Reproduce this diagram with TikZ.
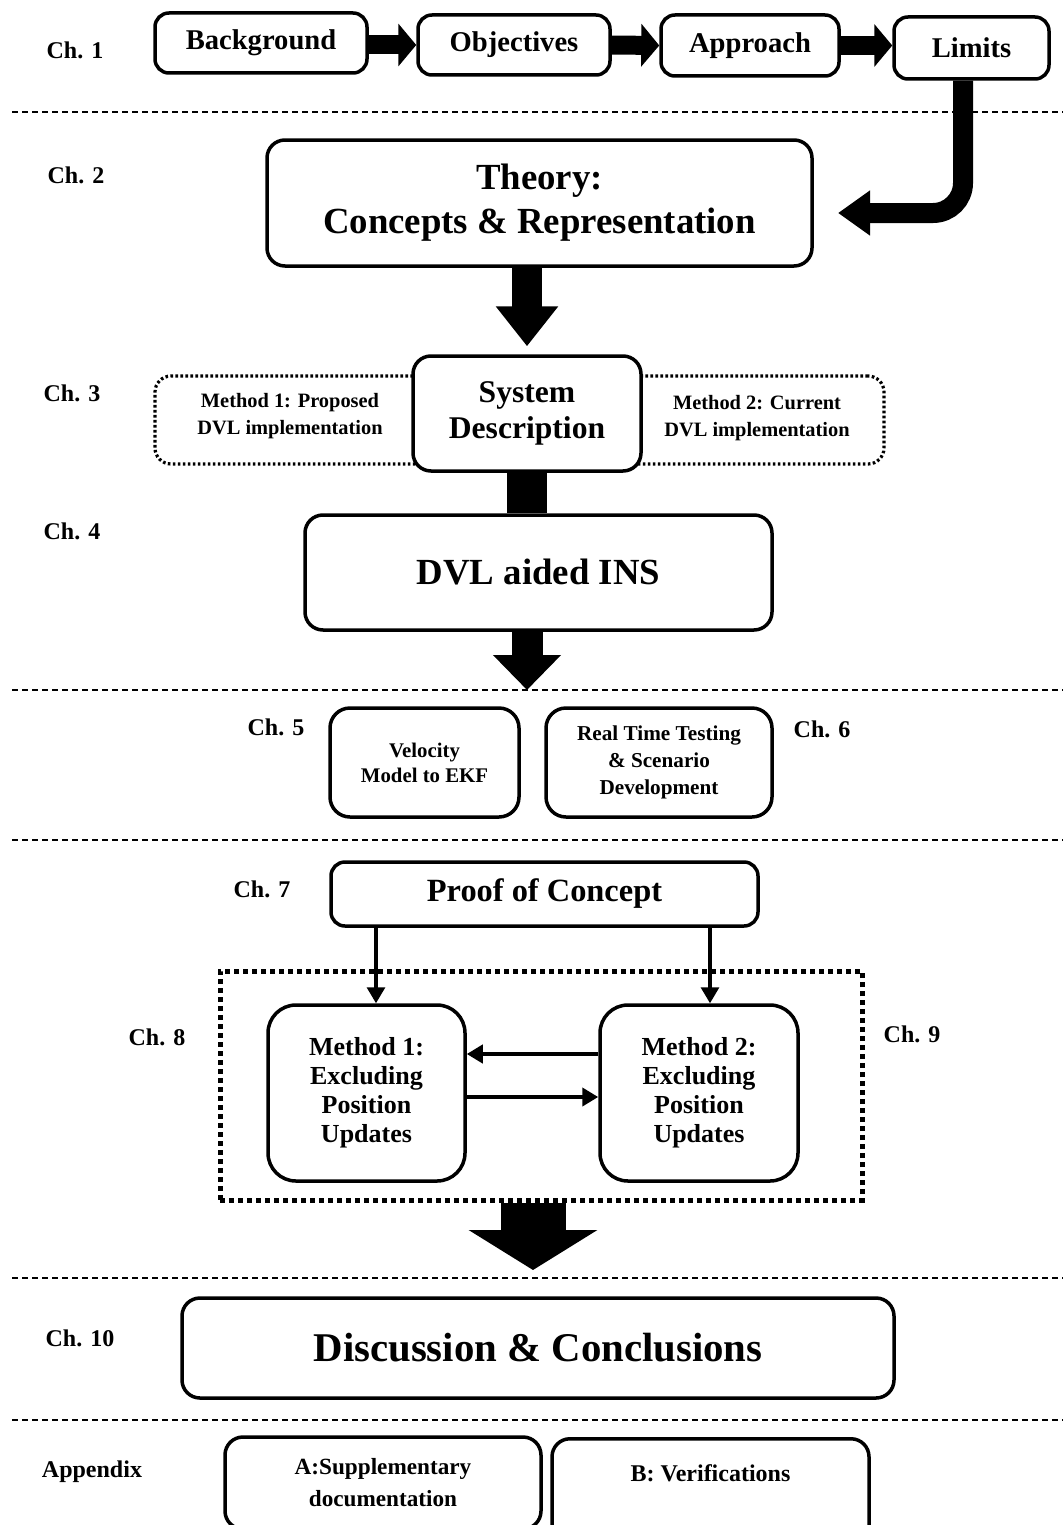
\documentclass[tikz,border=0pt]{standalone}
\usepackage{fontspec}
\setmainfont{Liberation Serif}
\usetikzlibrary{arrows.meta,calc}
\newcommand\myfs[2]{\fontsize{#1pt}{#2pt}\selectfont\bfseries}
\tikzset{
  box/.style={draw, line width=1.75pt, rounded corners=7pt, fill=white, align=center, inner sep=0pt},
  chlab/.style={font=\myfs{12}{14}, inner sep=0pt},
  sepline/.style={line width=0.6pt, dash pattern=on 3pt off 2pt},
  fatarrow/.style={line width=9.5pt, -{Triangle[width=21pt,length=9pt]}},
  thinarrow/.style={line width=1.6pt, -{Triangle[width=9pt,length=8pt]}},
  dotbox/.style={draw, line width=1.6pt, dash pattern=on 1.3pt off 1.2pt, rounded corners=8pt},
  sqdotbox/.style={draw, line width=2.5pt, dash pattern=on 2.5pt off 2pt},
}
\begin{document}
\begin{tikzpicture}[x=0.5pt,y=-0.5pt]
\clip (0,0) rectangle (1063,1525);
\fill[white] (0,0) rectangle (1063,1525);

% separators
\foreach \yy in {112,690,840,1278,1420} \draw[sepline] (12,\yy) -- (1063,\yy);

% chapter labels
\node[chlab] (c1) at (75,50) {Ch. 1};
\node[chlab] (c2) at (76,175) {Ch. 2};
\node[chlab] (c3) at (72,393) {Ch. 3};
\node[chlab] (c4) at (72,531) {Ch. 4};
\node[chlab] (c5) at (276,727) {Ch. 5};
\node[chlab] (c6) at (822,729) {Ch. 6};
\node[chlab] (c7) at (262,889) {Ch. 7};
\node[chlab] (c8) at (157,1037) {Ch. 8};
\node[chlab] (c9) at (912,1034) {Ch. 9};
\node[chlab] (c10) at (80,1338) {Ch. 10};
\node[chlab] (capp) at (92,1472) {Appendix};

% Ch 1
\node[box, minimum width=106pt, minimum height=30pt, font=\myfs{14.3}{16}] (bg) at (261,43) {Background};
\node[box, minimum width=96pt, minimum height=30pt, font=\myfs{14.3}{16}] (obj) at (514,45) {Objectives};
\node[box, minimum width=89pt, minimum height=30.5pt, font=\myfs{14.3}{16}] (app) at (750,45.5) {Approach};
\node[box, minimum width=77.5pt, minimum height=31pt, font=\myfs{14.3}{16}] (lim) at (971.5,48) {Limits};
\draw[fatarrow] (bg.east |- obj.west) -- (obj.west);
\draw[fatarrow] (obj.east) -- (app.west);
\draw[fatarrow] (app.east) -- (lim.west |- app.east);

% Ch 2
\node[box, minimum width=272.5pt, minimum height=63pt, rounded corners=9pt, font=\myfs{18.4}{22}] (th) at (539.5,203) {Theory:\\Concepts \& Representation};
\coordinate (ltip) at (838,213);
\draw[line width=10pt, rounded corners=15pt, -{Triangle[width=21.5pt,length=16pt]}] ([xshift=-4.25pt]lim.south) |- (ltip);

% Ch 3
\node[dotbox, minimum width=364.5pt, minimum height=44pt] (dots) at (519.5,420) {};
\node[font=\myfs{10.2}{13.5}, align=center, inner sep=0pt] (m1t) at (290,416) {Method 1: Proposed\\DVL implementation};
\node[font=\myfs{10.2}{13.5}, align=center, inner sep=0pt] (m2t) at (757,418) {Method 2: Current\\DVL implementation};
\node[box, minimum width=114pt, minimum height=57.5pt, rounded corners=9pt, font=\myfs{15.8}{18}] (sys) at (527,413.5) {System\\Description};
\draw[line width=15pt, shorten >=4pt, -{Triangle[width=30pt,length=20pt]}] (sys.north |- th.south) -- (sys.north);

% Ch 4
\node[box, minimum width=233.5pt, minimum height=57.5pt, rounded corners=9pt, font=\myfs{18.4}{22}] (dvl) at (538.5,572.5) {DVL aided INS};
\draw[line width=20pt] (sys.south) -- (dvl.north -| sys.south);
\coordinate (dvlend) at (527,690);
\draw[line width=15.5pt, -{Triangle[width=33pt,length=17.5pt]}] (dvl.south -| dvlend) -- (dvlend);

% Ch 5 / 6
\node[box, minimum width=94.5pt, minimum height=54.5pt, rounded corners=10pt, font=\myfs{10.4}{12.5}] (vel) at (424.5,762.5) {Velocity\\Model to EKF};
\node[box, minimum width=113pt, minimum height=54.5pt, rounded corners=10pt, font=\myfs{10.6}{13.5}] (rt) at (659,762.5) {Real Time Testing\\\& Scenario\\Development};

% Ch 7
\node[box, minimum width=213.5pt, minimum height=32pt, font=\myfs{16.2}{18}] (poc) at (544.5,894) {Proof of Concept};

% Ch 8 / 9
\node[sqdotbox, minimum width=321pt, minimum height=114.5pt] (grp) at (541,1085.5) {};
\node[box, minimum width=98.5pt, minimum height=88pt, rounded corners=14pt, font=\myfs{13}{14.5}] (me1) at (366.5,1093) {Method 1:\\Excluding\\Position\\Updates};
\node[box, minimum width=99pt, minimum height=88pt, rounded corners=14pt, font=\myfs{13}{14.5}] (me2) at (699,1093) {Method 2:\\Excluding\\Position\\Updates};
\draw[thinarrow] ([xshift=4.75pt]me1.north |- poc.south) -- ([xshift=4.75pt]me1.north);
\draw[thinarrow] ([xshift=5.5pt]me2.north |- poc.south) -- ([xshift=5.5pt]me2.north);
\draw[thinarrow, line width=2pt] ($(me2.west)+(0,-39)$) -- ($(me1.east)+(0,-39)$);
\draw[thinarrow, line width=2pt] ($(me1.east)+(0,4)$) -- ($(me2.west)+(0,4)$);
\coordinate (bigend) at (533,1270);
\draw[line width=32.5pt, -{Triangle[width=63.5pt,length=20pt]}] (grp.south -| bigend) -- (bigend);

% Ch 10
\node[box, minimum width=356pt, minimum height=50pt, rounded corners=9pt, font=\myfs{20.4}{24}] (disc) at (538,1348) {Discussion \& Conclusions};

% Appendix
\node[box, minimum width=158pt, minimum height=46pt, rounded corners=9pt, font=\myfs{11.6}{16}] (appa) at (383,1483) {A:Supplementary\\documentation};
\node[box, anchor=north, minimum width=158.5pt, rounded corners=9pt, text height=21.5pt, text depth=50pt, font=\myfs{12}{14}] (appb) at (710.5,1437) {B: Verifications};
\end{tikzpicture}
\end{document}
